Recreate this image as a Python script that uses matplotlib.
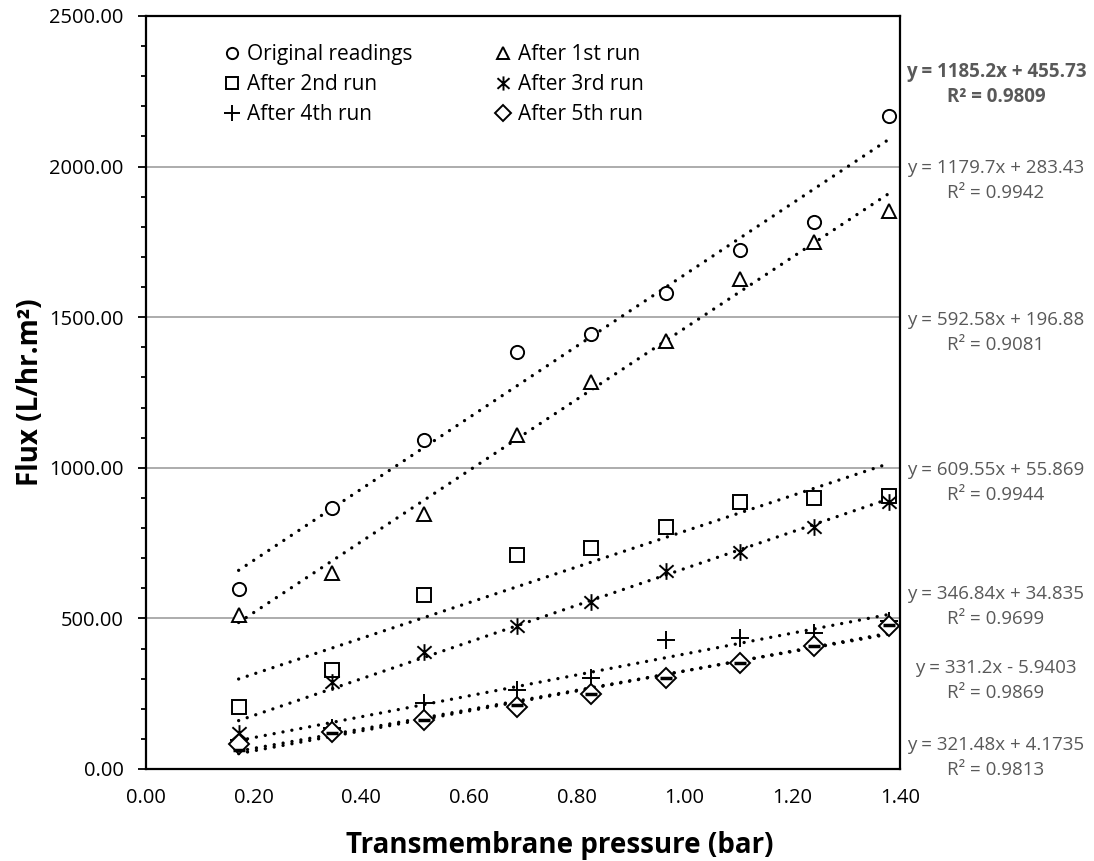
import matplotlib
matplotlib.use("Agg")
import matplotlib.pyplot as plt
import numpy as np
from matplotlib.path import Path
from matplotlib.ticker import FormatStrFormatter, MultipleLocator

plt.rcParams['font.family'] = ['Open Sans', 'DejaVu Sans']

# ---- data ----
pressure = [0.172, 0.345, 0.517, 0.689, 0.827, 0.965, 1.103, 1.241, 1.379]
original = [598, 867, 1092, 1384, 1444, 1579, 1723, 1817, 2168]
run1 = [511, 651, 846, 1109, 1285, 1421, 1627, 1750, 1853]
run2 = [206, 329, 578, 710, 733, 804, 887, 899, 906]
run3 = [120, 289, 389, 475, 554, 657, 721, 804, 887]
run4 = [95, 136, 219, 262, 302, 428, 435, 451, 491]
run5 = [83, 123, 163, 206, 249, 302, 352, 408, 475]
hidden = [63, 120, 163, 212, 249, 302, 352, 408, 478]

series_names = ["Original readings", "After 1st run", "After 2nd run",
                "After 3rd run", "After 4th run", "After 5th run"]

# trendline coefficients as printed
fit_slopes = [1185.2, 1179.7, 592.58, 609.55, 346.84, 331.2, 321.48]
fit_intercepts = [455.73, 283.43, 196.88, 55.869, 34.835, -5.9403, 4.1735]
fit_labels = ["y = 1185.2x + 455.73", "y = 1179.7x + 283.43", "y = 592.58x + 196.88",
              "y = 609.55x + 55.869", "y = 346.84x + 34.835", "y = 331.2x - 5.9403",
              "y = 321.48x + 4.1735"]
r2_labels = ["R² = 0.9809", "R² = 0.9942", "R² = 0.9081", "R² = 0.9944",
             "R² = 0.9699", "R² = 0.9869", "R² = 0.9813"]

# custom asterisk marker (X with vertical bar)
ast_path = Path([(0, -1), (0, 1), (-0.85, -0.75), (0.85, 0.75), (-0.85, 0.75), (0.85, -0.75)],
                [Path.MOVETO, Path.LINETO, Path.MOVETO, Path.LINETO, Path.MOVETO, Path.LINETO])

W, H = 1094, 861
fig = plt.figure(figsize=(W/100, H/100), dpi=100)
ax = fig.add_axes([146/W, 1-769/H, 754/W, 753/H])

ax.set_xlim(0, 1.4)
ax.set_ylim(0, 2500)
ax.set_xticks(np.arange(0, 1.41, 0.2))
ax.set_yticks(np.arange(0, 2501, 500))
ax.yaxis.set_minor_locator(MultipleLocator(100))
ax.xaxis.set_major_formatter(FormatStrFormatter('%.2f'))
ax.yaxis.set_major_formatter(FormatStrFormatter('%.2f'))
ax.yaxis.grid(True, color='#a6a6a6', lw=1.3)
ax.set_axisbelow(True)
for s in ax.spines.values():
    s.set_linewidth(1.6)
    s.set_color('black')
ax.tick_params(axis='x', length=0, pad=14, labelsize=14.5)
ax.tick_params(axis='y', which='major', length=6, width=1.3, pad=10, labelsize=14.5, direction='out')
ax.tick_params(axis='y', which='minor', length=3.8, width=1.3, direction='out')

# trendlines
xs = np.array([pressure[0], pressure[-1]])
for m, b in zip(fit_slopes, fit_intercepts):
    ax.plot(xs, m*xs + b, color='black', lw=2.4, linestyle=(0, (0.01, 2.7)),
            dash_capstyle='round', zorder=2)

mk = dict(mfc='white', mec='black', mew=1.4, ls='none', zorder=3)
data = [original, run1, run2, run3, run4, run5]
markers = ['o', '^', 's', ast_path, '+', 'D']
sizes = [9.5, 10, 10, 12, 13, 10]
handles = []
for d, m, sz, name in zip(data, markers, sizes, series_names):
    h, = ax.plot(pressure, d, marker=m, markersize=sz, label=name, **mk)
    handles.append(h)
ax.plot(pressure, hidden, marker='_', markersize=9, mec='black', mew=2.5, ls='none', zorder=4)

order = [0, 2, 4, 1, 3, 5]
leg = ax.legend([handles[i] for i in order], [series_names[i] for i in order],
                ncol=2, loc='upper left', bbox_to_anchor=(225/W, 1-44/H),
                bbox_transform=fig.transFigure, frameon=False, borderpad=0, borderaxespad=0,
                fontsize=15, handlelength=0.7, handletextpad=0.36, columnspacing=4.0,
                labelspacing=0.43, markerscale=0.85)

ax.set_xlabel("Transmembrane pressure (bar)", fontsize=20, fontweight='bold', labelpad=14)
ax.xaxis.set_label_coords((560-146)/754, -0.082)
ax.set_ylabel("Flux (L/hr.m²)", fontsize=20, fontweight='bold', labelpad=3)

# equation labels
eq_px = [(72, 97), (168, 193), (320, 345), (470, 495), (594, 619), (668, 693), (745, 770)]
for i, (t1, t2) in enumerate(zip(fit_labels, r2_labels)):
    y1, y2 = eq_px[i]
    w = 'bold' if i == 0 else 'normal'
    col = '#595959'
    fig.text(996/W, 1 - y1/H, t1, ha='center', va='center', fontsize=13.5,
             color=col, fontweight=w)
    fig.text(996/W, 1 - y2/H, t2, ha='center', va='center', fontsize=13.5,
             color=col, fontweight=w)

fig.savefig("out.png", dpi=100)
